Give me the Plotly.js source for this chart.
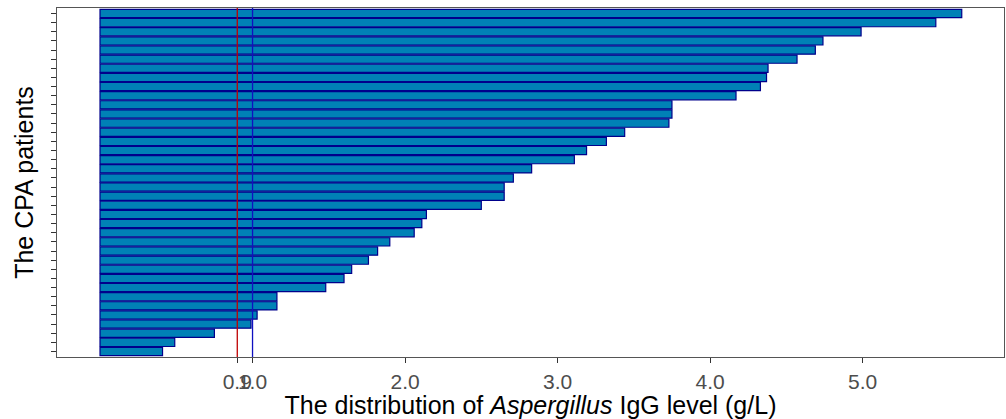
<!DOCTYPE html>
<html>
<head>
<meta charset="utf-8">
<script src="https://cdn.plot.ly/plotly-3.0.1.min.js"></script>
<style>
html,body{margin:0;padding:0;background:#fff;}
#chart{width:1006px;height:419px;}
</style>
</head>
<body>
<div id="chart"></div>
<script>
// Patients sorted from lowest (bottom) to highest (top) IgG level
const patients = Array.from({length: 38}, (_, i) => 'P' + (i + 1));
const iggLevels = [
  0.41, 0.49, 0.75, 0.99, 1.03, 1.16, 1.16, 1.48, 1.60, 1.65,
  1.76, 1.82, 1.90, 2.06, 2.11, 2.14, 2.50, 2.65, 2.65, 2.71,
  2.83, 3.11, 3.19, 3.32, 3.44, 3.73, 3.75, 3.75, 4.17, 4.33,
  4.37, 4.38, 4.57, 4.69, 4.74, 4.99, 5.48, 5.65
];
const cutoffRed = 0.9;
const cutoffBlue = 1.0;
const xTickVals = [0.9, 1.0, 2.0, 3.0, 4.0, 5.0];
const xTickText = ['0.9', '1.0', '2.0', '3.0', '4.0', '5.0'];

const font = 'Liberation Sans, Arial, sans-serif';

const trace = {
  type: 'bar',
  orientation: 'h',
  y: patients.map((_, i) => i + 1),
  x: iggLevels,
  width: 0.9,
  marker: {color: '#0081B6', line: {color: '#00008B', width: 1.2}},
  hoverinfo: 'x'
};

const layout = {
  width: 1006,
  height: 419,
  margin: {l: 57, r: 2, t: 8, b: 62},
  paper_bgcolor: '#fff',
  plot_bgcolor: '#fff',
  showlegend: false,
  bargap: 0,
  xaxis: {
    range: [-0.282, 5.927],
    tickvals: xTickVals,
    ticktext: xTickText,
    tickangle: 0,
    ticks: 'outside',
    ticklen: 5,
    tickwidth: 1,
    tickcolor: '#333',
    tickfont: {family: font, size: 21, color: '#4D4D4D'},
    showgrid: false,
    zeroline: false,
    showline: true,
    linecolor: '#555',
    linewidth: 1.3,
    mirror: true,
    title: {
      text: 'The distribution of <i>Aspergillus</i> IgG level (g/L)',
      font: {family: font, size: 25, color: '#000'},
      standoff: 0
    }
  },
  yaxis: {
    range: [0.4, 38.6],
    tickvals: patients.map((_, i) => i + 1),
    ticktext: patients.map(() => ''),
    showticklabels: false,
    ticks: 'outside',
    ticklen: 5,
    tickwidth: 1,
    tickcolor: '#333',
    showgrid: false,
    zeroline: false,
    showline: true,
    linecolor: '#555',
    linewidth: 1.3,
    mirror: true,
    title: {
      text: 'The CPA patients',
      font: {family: font, size: 25, color: '#000'},
      standoff: 10
    }
  },
  shapes: [
    {type: 'line', xref: 'x', yref: 'paper', x0: cutoffRed, x1: cutoffRed, y0: 0, y1: 1,
     line: {color: '#C00000', width: 1.3}},
    {type: 'line', xref: 'x', yref: 'paper', x0: cutoffBlue, x1: cutoffBlue, y0: 0, y1: 1,
     line: {color: '#1010C0', width: 1.3}}
  ]
};

Plotly.newPlot('chart', [trace], layout, {displayModeBar: false, staticPlot: true});
</script>
</body>
</html>
